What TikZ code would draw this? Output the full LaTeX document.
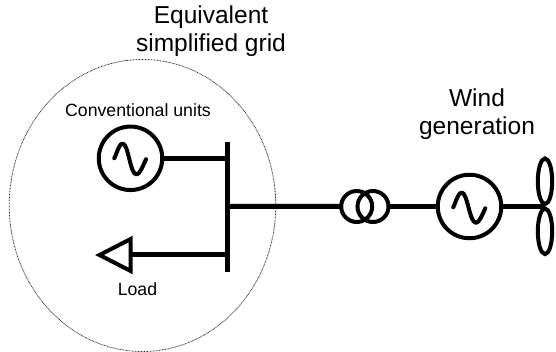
\documentclass[tikz,border=0pt]{standalone}
\usepackage{fontspec}
\usetikzlibrary{shapes.geometric}
\setmainfont{Liberation Sans}
\begin{document}
\begin{tikzpicture}[x=1pt,y=-1pt,
  thick line/.style={line width=5pt},
  sym/.style={draw=black,line width=4pt,fill=none},
  gencirc/.style={sym,circle,minimum size=63.5pt,inner sep=0pt,outer sep=0pt},
  coil/.style={sym,circle,minimum size=31pt,inner sep=0pt,outer sep=0pt},
  wave/.style={line width=4pt,line cap=round,line join=round},
  big/.style={font=\fontsize{24.5}{28}\selectfont,inner sep=0pt,anchor=base},
  small/.style={font=\fontsize{17.7}{20}\selectfont,inner sep=0pt,anchor=base}]
\useasboundingbox (0,0) rectangle (556,352);
\fill[white] (0,0) rectangle (556,352);
\node[draw=black!80,dash pattern=on 0.8pt off 0.7pt,line width=0.8pt,ellipse,minimum width=266.5pt,minimum height=292pt,inner sep=0pt,outer sep=0pt] (grid) at (142.5,205.5) {};
\node[gencirc] (g1) at (130.5,158.3) {};
\node[gencirc] (g2) at (469.5,206.5) {};
\node[coil] (t1) at (356.7,206.5) {};
\node[coil] (t2) at (373,206.5) {};
\coordinate (bustop) at (227.7,141.7);
\coordinate (busbot) at (227.7,271.7);
\coordinate (busg) at (227.7,158.3);
\coordinate (busfeed) at (227.7,206.3);
\coordinate (busload) at (227.7,255);
\coordinate (hub) at (545,206.5);
\coordinate (loadbase) at (131,255);
\draw[line width=5pt] (bustop) -- (busbot);
\draw[thick line] (g1.east) -- (busg);
\draw[thick line] (busfeed) -- (t1.west);
\draw[thick line] (t2.east) -- (g2.west);
\draw[thick line] (g2.east) -- (hub);
\draw[thick line] (loadbase) -- (busload);
\draw[sym,line join=miter] (130.7,239) -- (99.5,255) -- (130.7,271) -- cycle;
\draw[wave] (114.3,158.3) .. controls (117.5,151) and (119.5,143.5) .. (122.5,143.5) .. controls (128.5,143.5) and (130,174.5) .. (136.5,174.5) .. controls (139.5,174.5) and (142.5,167) .. (146,159.3);
\draw[wave] (453.3,207.3) .. controls (456.5,200) and (458.5,192.5) .. (461.7,192.5) .. controls (467.5,192.5) and (469.5,222.8) .. (476,222.8) .. controls (479,222.8) and (482,215.5) .. (485.3,208.3);
\draw[sym] (545,181.3) ellipse (7.2pt and 22.8pt);
\draw[sym] (545,231.3) ellipse (7.2pt and 22.8pt);
\node[big] (title1a) at (211,24) {Equivalent};
\node[big] (title1b) at (211,52) {simplified grid};
\node[big] (title2a) at (477,107) {Wind};
\node[big] (title2b) at (477,135) {generation};
\node[small] (lab1) at (138,117) {Conventional units};
\node[small] (lab2) at (137.5,295) {Load};
\end{tikzpicture}
\end{document}
